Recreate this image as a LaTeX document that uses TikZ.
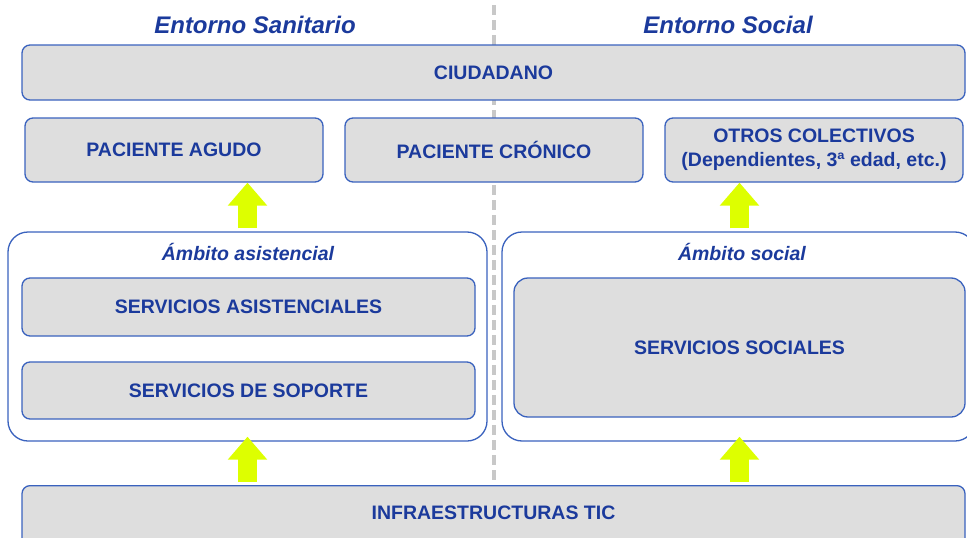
\documentclass[tikz,border=0pt]{standalone}
\usepackage{fontspec}
\setmainfont{Liberation Sans}
\usetikzlibrary{arrows.meta}
\definecolor{boxblue}{HTML}{3A62BE}
\definecolor{textblue}{HTML}{1B3A9C}
\definecolor{boxgray}{HTML}{DEDEDE}
\definecolor{arrowgreen}{HTML}{DDFF00}
\definecolor{divgray}{HTML}{C8C8C8}
\begin{document}
\begin{tikzpicture}[x=1pt,y=-1pt,
    caja/.style={draw=boxblue,line width=1.3pt,fill=boxgray,rounded corners=8pt,text=textblue,
        font=\fontsize{19.5}{24}\selectfont\bfseries,align=center,inner sep=0pt},
    ambito/.style={draw=boxblue,line width=1.3pt,fill=white,rounded corners=20pt,inner sep=0pt},
    titulo/.style={text=textblue,font=\fontsize{24}{28}\selectfont\bfseries\itshape},
    etiqueta/.style={text=textblue,font=\fontsize{19.5}{24}\selectfont\bfseries\itshape},
    flecha/.style={arrowgreen,line width=19pt,-{Triangle[width=38pt,length=23pt]}}]
                \clip (0,0) rectangle (967,538);
                % divisoria
                \draw[divgray,line width=3.5pt,dash pattern=on 10pt off 5pt] (494,5) -- (494,485);
                \node[titulo] (sanit) at (255,25) {Entorno Sanitario};
                \node[titulo] (social) at (728,25) {Entorno Social};
                \node[caja,minimum width=943pt,minimum height=55pt] (ciud) at (493.5,72.5) {CIUDADANO};
                \node[caja,minimum width=298pt,minimum height=64pt] (agudo) at (174,150) {PACIENTE AGUDO};
                \node[caja,minimum width=298pt,minimum height=64pt] (cronico) at (494,150) {PACIENTE CRÓNICO};
                \node[caja,minimum width=298pt,minimum height=64pt] (otros) at (814,150) {OTROS COLECTIVOS\\(Dependientes, 3ª edad, etc.)};
                % ambitos
                \node[ambito,minimum width=479pt,minimum height=209pt] (asistamb) at (247.5,336.5) {};
                \node[ambito,minimum width=473pt,minimum height=209pt] (socamb) at (738.5,336.5) {};
                \node[etiqueta] (lblasist) at (248,252) {Ámbito asistencial};
                \node[etiqueta] (lblsoc) at (742,252) {Ámbito social};
                \node[caja,minimum width=453pt,minimum height=58pt] (asist) at (248.5,307) {SERVICIOS ASISTENCIALES};
                \node[caja,minimum width=453pt,minimum height=57pt] (soporte) at (248.5,390.5) {SERVICIOS DE SOPORTE};
                \node[caja,minimum width=451pt,minimum height=139pt,rounded corners=14pt] (sociales) at (739.5,347.5) {SERVICIOS SOCIALES};
                \node[caja,minimum width=943pt,minimum height=60pt,anchor=north] (infra) at (493.5,485) {};
                \node[text=textblue,font=\fontsize{19.5}{24}\selectfont\bfseries] (infratxt) at (493.5,513) {INFRAESTRUCTURAS TIC};
                % flechas
                \draw[flecha] ([yshift=3pt]asistamb.north) -- (agudo.south -| asistamb.north);
                \draw[flecha] ([yshift=3pt]socamb.north -| sociales.north) -- (otros.south -| sociales.north);
                \draw[flecha] ([yshift=3pt]infra.north -| asistamb.south) -- ([yshift=5pt]asistamb.south);
                \draw[flecha] ([yshift=3pt]infra.north -| sociales.south) -- ([yshift=5pt]socamb.south -| sociales.south);
\end{tikzpicture}
\end{document}
